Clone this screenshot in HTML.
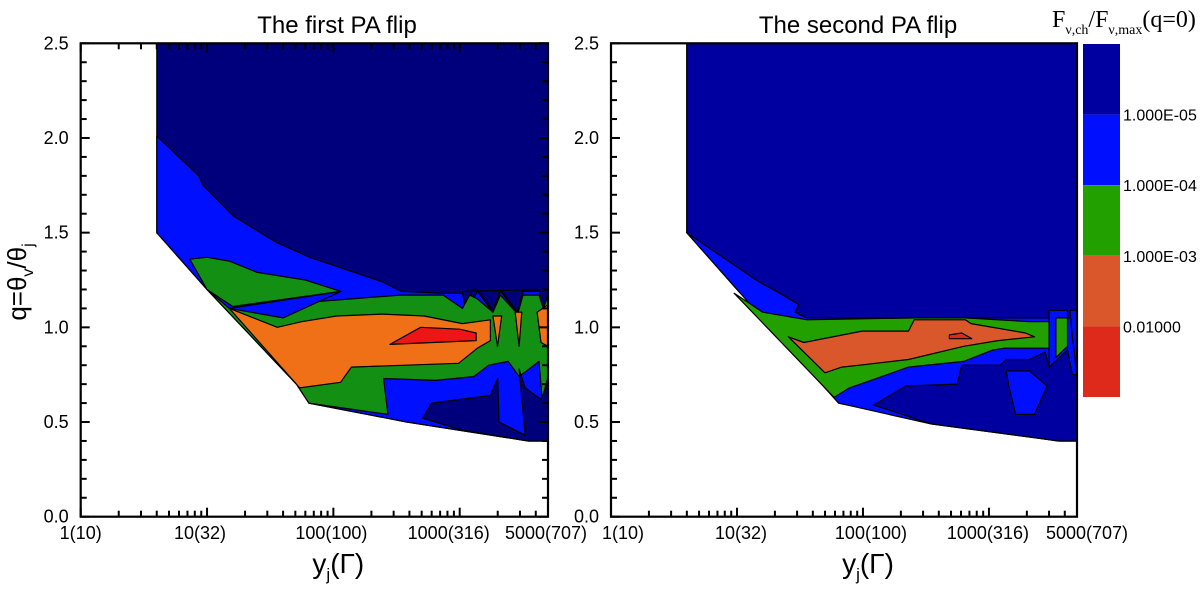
<!DOCTYPE html>
<html><head><meta charset="utf-8"><style>
body{margin:0;background:#fff;}
svg{display:block;font-family:"Liberation Sans",sans-serif;}
</style></head><body>
<svg id="chart" width="1200" height="591" viewBox="0 0 1200 591" xmlns="http://www.w3.org/2000/svg">
<g id="plots"></g>
</svg>
<script>
// ---- data: contour regions as [y_j, q] vertex lists ----
const xTickVals = [1, 10, 100, 1000, 5000];
const xTickLabels = ["1(10)", "10(32)", "100(100)", "1000(316)", "5000(707)"];
const yTickVals = [0.0, 0.5, 1.0, 1.5, 2.0, 2.5];
const yTickLabels = ["0.0", "0.5", "1.0", "1.5", "2.0", "2.5"];
const levelLabels = ["1.000E-05", "1.000E-04", "1.000E-03", "0.01000"];

const domain = [[4,2.5],[5000,2.5],[5000,0.4],[3500,0.4],[380,0.5],[64,0.6],[51,0.7],[10,1.2],[4,1.5]];

// first PA flip
const L_blue = [[4,2.01],[8.6,1.8],[9.3,1.75],[16,1.59],[35,1.45],[65,1.37],[245,1.24],[345,1.19],[740,1.18],[1050,1.18],[1130,1.08],[1380,1.19],[1830,1.08],[2100,1.19],[2880,1.07],[3170,1.19],[5000,1.19],[5000,0.4],[3500,0.4],[380,0.5],[64,0.6],[51,0.7],[10,1.2],[4,1.5]];
const L_navySpikes = [[1050,1.19],[1130,1.09],[1250,1.2],[1380,1.2],[1830,1.09],[2100,1.2],[2880,1.08],[3170,1.2],[4240,1.2],[4600,1.08],[5000,1.19],[5000,1.2]];
const L_greenTongue = [[7.3,1.36],[10,1.37],[15,1.35],[25,1.29],[60,1.25],[115,1.19],[16,1.11],[10,1.2]];
const L_greenMain = [[15,1.1],[340,1.17],[740,1.17],[1050,1.1],[1200,1.17],[1380,1.15],[1830,1.08],[2100,1.17],[2880,1.07],[3170,1.17],[4240,1.17],[4600,1.1],[5000,1.17],[5000,0.74],[4500,0.62],[4240,0.82],[2960,0.74],[2420,0.82],[1700,0.8],[1290,0.74],[645,0.72],[250,0.73],[270,0.54],[64,0.6],[51,0.7],[10,1.2]];
const L_blueSliver = [[15,1.1],[115,1.19],[40,1.05]];
const L_navyIsland = [[510,0.52],[600,0.6],[1750,0.64],[2000,0.73],[2050,0.5],[3300,0.43],[2950,0.78],[3300,0.68],[4400,0.62],[5000,0.7],[5000,0.4],[3500,0.4],[1000,0.46]];
const L_orange = [[15,1.1],[36,1.0],[56,1.03],[106,1.06],[245,1.07],[525,1.06],[1050,1.02],[1750,1.04],[1750,0.93],[1380,0.89],[980,0.81],[139,0.79],[114,0.71],[54,0.68],[51,0.7]];
const L_orangeW1 = [[1830,1.06],[2150,1.06],[1990,0.9]];
const L_orangeW2 = [[2750,1.08],[3100,1.08],[2950,0.9]];
const L_orangeW3 = [[4100,1.08],[5000,1.12],[5000,0.9],[4400,0.92]];
const L_red = [[280,0.91],[490,1.0],[1000,0.99],[1350,0.97],[1350,0.93]];

// second PA flip
const R_blue = [[4,1.5],[15,1.24],[22,1.18],[31,1.12],[29,1.08],[36,1.05],[3000,1.05],[5000,1.05],[5000,0.4],[3630,0.4],[347,0.49],[64,0.6],[10,1.2]];
const R_navyUpper = [[4,2.5],[5000,2.5],[5000,1.05],[36,1.05],[29,1.08],[31,1.12],[22,1.18],[15,1.24],[4,1.5]];
const R_green = [[9.5,1.18],[16,1.08],[36,1.04],[255,1.05],[650,1.05],[2100,1.03],[3000,1.03],[3000,0.89],[1330,0.89],[1070,0.88],[630,0.82],[230,0.79],[105,0.71],[78,0.68],[59,0.63]];
const R_orange = [[25.6,0.95],[34,0.92],[98,0.98],[230,0.98],[255,1.04],[650,1.04],[720,1.02],[1950,0.97],[2300,0.95],[1180,0.93],[630,0.9],[230,0.83],[94,0.8],[68,0.79],[50,0.76]];
const R_red = [[485,0.96],[610,0.97],[730,0.94],[485,0.94]];
const R_navyIsland = [[122,0.59],[220,0.69],[560,0.7],[610,0.8],[1230,0.8],[1370,0.83],[2100,0.83],[2800,0.87],[3000,0.79],[4200,0.88],[4600,0.75],[5000,0.75],[5000,0.4],[3630,0.4],[347,0.49]];
const R_blueIsland = [[1370,0.77],[2100,0.77],[2900,0.69],[2300,0.54],[1630,0.54],[1440,0.69]];
const R_blueStrip = [[3000,1.09],[4200,1.09],[4200,0.88],[3000,0.79]];
const R_greenStrip = [[3400,1.05],[4200,1.05],[4200,0.9],[3400,0.84]];
const R_blueStrip2 = [[4400,1.09],[5000,1.09],[5000,0.75],[4600,0.95]];

const NS = "http://www.w3.org/2000/svg";
const root = document.getElementById("plots");
function mk(tag, attrs, parent) {
  const e = document.createElementNS(NS, tag);
  for (const k in attrs) e.setAttribute(k, attrs[k]);
  (parent || root).appendChild(e);
  return e;
}
const Y0 = 516.7, Y1 = 43.3;
function makePanel(x0, x1) {
  const sx = v => x0 + Math.log10(v) / Math.log10(5000) * (x1 - x0);
  const sy = q => Y0 - q / 2.5 * (Y0 - Y1);
  return {sx, sy};
}
function poly(g, P, pts, fill, name) {
  const d = pts.map(p => P.sx(p[0]).toFixed(1) + "," + P.sy(p[1]).toFixed(1)).join(" ");
  const e = mk("polygon", {points: d, fill: fill, stroke: "#000", "stroke-width": 1.2, "stroke-linejoin": "round"}, g);
  
  
}
function axes(g, P, x0, x1, opts) {
  const tk = (xa, ya, xb, yb) => mk("line", {x1: xa, y1: ya, x2: xb, y2: yb, stroke: "#000", "stroke-width": 2}, g);
  for (let i = 0; i <= 25; i++) {
    const q = i / 10, y = P.sy(q), len = (i % 5 === 0) ? 9 : 6;
    tk(x0, y, x0 + len, y);
    if (opts.rightTicks) tk(x1, y, x1 - len, y);
  }
  for (let dec = 1; dec <= 1000; dec *= 10) {
    for (let m = 1; m <= 9; m++) {
      const v = dec * m; if (v > 5000) break;
      const x = P.sx(v), len = m === 1 ? 9 : 6;
      tk(x, Y0, x, Y0 - len);
      if (opts.topTicks) tk(x, Y1, x, Y1 + len);
    }
  }
  mk("rect", {x: x0, y: Y1, width: x1 - x0, height: Y0 - Y1, fill: "none", stroke: "#000", "stroke-width": 2.2}, g);
  yTickVals.forEach((q, i) => {
    const t = mk("text", {x: x0 - 12, y: P.sy(q) + 6, "text-anchor": "end", "font-size": 18}, g);
    t.textContent = yTickLabels[i];
    
    
  });
  xTickVals.forEach((v, i) => {
    const t = mk("text", {x: P.sx(v) + opts.xOff[i], y: 539, "text-anchor": "middle", "font-size": 18}, g);
    t.textContent = xTickLabels[i];
    
    
  });
  const xt = mk("text", {x: (x0 + x1) / 2 + 24, y: 573, "text-anchor": "middle", "font-size": 28}, g);
  xt.innerHTML = 'y<tspan font-size="17" dy="7">j</tspan><tspan dy="-7">(Γ)</tspan>';
  
  
  const tt = mk("text", {x: opts.titleX, y: 33, "text-anchor": "middle", "font-size": 24}, g);
  tt.textContent = opts.title;
  
  
}

// left panel
const LP = makePanel(80.7, 548);
const gL = mk("g", {});


poly(gL, LP, domain, "#00007c", "navy-region");
poly(gL, LP, L_blue, "#0010ff", "blue-region");
poly(gL, LP, L_navySpikes, "#00007c", "navy-spikes");
poly(gL, LP, L_greenMain, "#139013", "green-region");
poly(gL, LP, L_greenTongue, "#139013", "green-tongue");
poly(gL, LP, L_blueSliver, "#0010ff", "blue-sliver");
poly(gL, LP, L_navyIsland, "#00007c", "navy-island");
poly(gL, LP, L_orange, "#f07018", "orange-region");
poly(gL, LP, L_orangeW1, "#f07018", "orange-wedge");
poly(gL, LP, L_orangeW2, "#f07018", "orange-wedge");
poly(gL, LP, L_orangeW3, "#f07018", "orange-wedge");
poly(gL, LP, L_red, "#ee1515", "red-region");
axes(gL, LP, 80.7, 548, {rightTicks: true, topTicks: true, title: "The first PA flip", titleX: 337, xOff: [0, -7, -2, -11, -2]});
const yt = mk("text", {x: 0, y: 0, "text-anchor": "middle", "font-size": 26, transform: "translate(26,282) rotate(-90)"}, gL);
yt.innerHTML = 'q=θ<tspan font-size="16" dy="7">v</tspan><tspan dy="-7">/θ</tspan><tspan font-size="16" dy="7">j</tspan>';



// right panel
const RP = makePanel(611, 1077);
const gR = mk("g", {});


poly(gR, RP, domain, "#0000a0", "navy-region");
poly(gR, RP, R_blue, "#0010ff", "blue-region");
poly(gR, RP, R_navyUpper, "#0000a0", "navy-upper");
poly(gR, RP, R_navyIsland, "#0000a0", "navy-island");
poly(gR, RP, R_blueIsland, "#0010ff", "blue-island");
poly(gR, RP, R_green, "#22a000", "green-region");
poly(gR, RP, R_orange, "#d9572a", "orange-region");
poly(gR, RP, R_red, "#dd2a1a", "red-region");
poly(gR, RP, R_blueStrip, "#0010ff", "blue-strip");
poly(gR, RP, R_greenStrip, "#22a000", "green-strip");
poly(gR, RP, R_blueStrip2, "#0010ff", "blue-strip");
axes(gR, RP, 611, 1077, {rightTicks: false, topTicks: false, title: "The second PA flip", titleX: 858, xOff: [12, 4, 8, -1, 10]});

// colorbar
const cb = mk("g", {});


const cbColors = ["#0000a0", "#0010ff", "#22a000", "#d9572a", "#dd2a1a"];
const cbTop = 44, cbH = 70.6;
cbColors.forEach((c, i) => {
  const r = mk("rect", {x: 1083, y: cbTop + i * cbH, width: 37, height: cbH, fill: c}, cb);
  
  
});
levelLabels.forEach((s, i) => {
  const t = mk("text", {x: 1123, y: cbTop + (i + 1) * cbH + 6, "font-size": 16}, cb);
  t.textContent = s;
  
  
});
const ct = mk("text", {x: 1052, y: 27, "font-size": 24, "font-family": "Liberation Serif, serif"}, cb);
ct.innerHTML = 'F<tspan font-size="14" dy="7">ν,ch</tspan><tspan dy="-7">/F</tspan><tspan font-size="14" dy="7">ν,max</tspan><tspan dy="-7">(q=0)</tspan>';


</script>
</body></html>
